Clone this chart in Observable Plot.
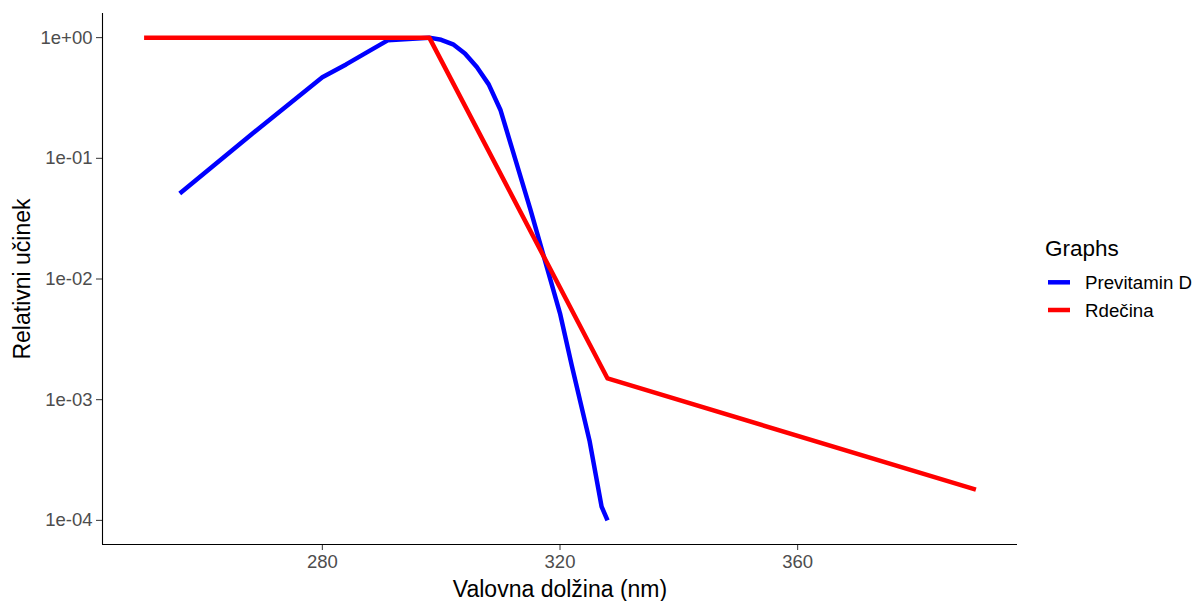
<!DOCTYPE html>
<html>
<head>
<meta charset="utf-8">
<script src="https://cdn.jsdelivr.net/npm/d3@7"></script>
<script src="https://cdn.jsdelivr.net/npm/@observablehq/plot@0.6"></script>
<style>
  html, body { margin: 0; padding: 0; background: #fff; }
  #chart { position: relative; width: 1194px; height: 601px; }
</style>
</head>
<body>
<div id="chart"></div>
<script>
// --- data ---
const seriesNames = ["Previtamin D", "Rdečina"];
const seriesColors = ["#0000FF", "#FF0000"];

const previtaminWavelength = [256, 268, 280, 284, 288, 291, 298, 300, 302, 304, 306, 308, 310, 315, 320, 322, 325, 327, 328];
const previtaminValue = [0.051, 0.157, 0.47, 0.60, 0.78, 0.95, 1.0, 0.96, 0.88, 0.74, 0.57, 0.41, 0.25, 0.038, 0.0052, 0.0019, 0.00045, 0.00013, 0.0001];

const erythemaWavelength = [250, 298, 328, 390];
const erythemaValue = [1, 1, 0.0015, 0.00018];

const xTicks = [280, 320, 360];
const yTicks = [1e-4, 1e-3, 1e-2, 1e-1, 1];
const yTickLabels = ["1e-04", "1e-03", "1e-02", "1e-01", "1e+00"];

const xTitle = "Valovna dolžina (nm)";
const yTitle = "Relativni učinek";
const legendTitle = "Graphs";

// --- build table ---
const rows = [
  ...previtaminWavelength.map((w, i) => ({series: seriesNames[0], wl: w, v: previtaminValue[i]})),
  ...erythemaWavelength.map((w, i) => ({series: seriesNames[1], wl: w, v: erythemaValue[i]}))
];

const FONT = "'Liberation Sans', Arial, sans-serif";
const xDomain = [243, 397];
const yDomain = [Math.pow(10, -4.2), Math.pow(10, 0.2)];

const plot = Plot.plot({
  width: 1194,
  height: 601,
  marginLeft: 102,
  marginRight: 177,
  marginTop: 13,
  marginBottom: 57,
  style: {fontFamily: FONT, background: "#fff", overflow: "visible"},
  x: {domain: xDomain},
  y: {type: "log", domain: yDomain},
  color: {domain: seriesNames, range: seriesColors},
  marks: [
    Plot.axisX({ticks: xTicks, tickSize: 6, tickPadding: 4, fontSize: 18.5, color: "#4D4D4D", stroke: "#333", label: null}),
    Plot.axisY({ticks: yTicks, tickFormat: d => yTickLabels[yTicks.indexOf(d)], tickSize: 6, tickPadding: 4, fontSize: 18.5, color: "#4D4D4D", stroke: "#333", label: null}),
    Plot.ruleX([xDomain[0]], {stroke: "#000", strokeWidth: 1.1}),
    Plot.ruleY([yDomain[0]], {stroke: "#000", strokeWidth: 1.1}),
    Plot.line(rows, {x: "wl", y: "v", z: "series", stroke: "series", strokeWidth: 4.5, strokeLinejoin: "round", strokeLinecap: "butt"}),
    Plot.text([xTitle], {frameAnchor: "bottom", dy: 45, fontSize: 23, fill: "#000", lineAnchor: "middle", textAnchor: "middle"}),
    Plot.text([yTitle], {frameAnchor: "left", dx: -80, rotate: -90, fontSize: 23, fill: "#000", lineAnchor: "middle", textAnchor: "middle"})
  ]
});

// legend drawn into the same svg
const svg = d3.select(plot);
const lg = svg.append("g").attr("font-family", FONT).attr("text-anchor", "start");
lg.append("text").attr("x", 1045).attr("y", 256).attr("font-size", 22.5).attr("fill", "#000").text(legendTitle);
seriesNames.forEach((name, i) => {
  const yc = 282.3 + i * 27.7;
  lg.append("line").attr("x1", 1048).attr("x2", 1070).attr("y1", yc).attr("y2", yc)
    .attr("stroke", seriesColors[i]).attr("stroke-width", 4.5);
  lg.append("text").attr("x", 1085).attr("y", yc + 7).attr("font-size", 18.7).attr("fill", "#000").text(name);
});

document.getElementById("chart").appendChild(plot);
</script>
</body>
</html>
